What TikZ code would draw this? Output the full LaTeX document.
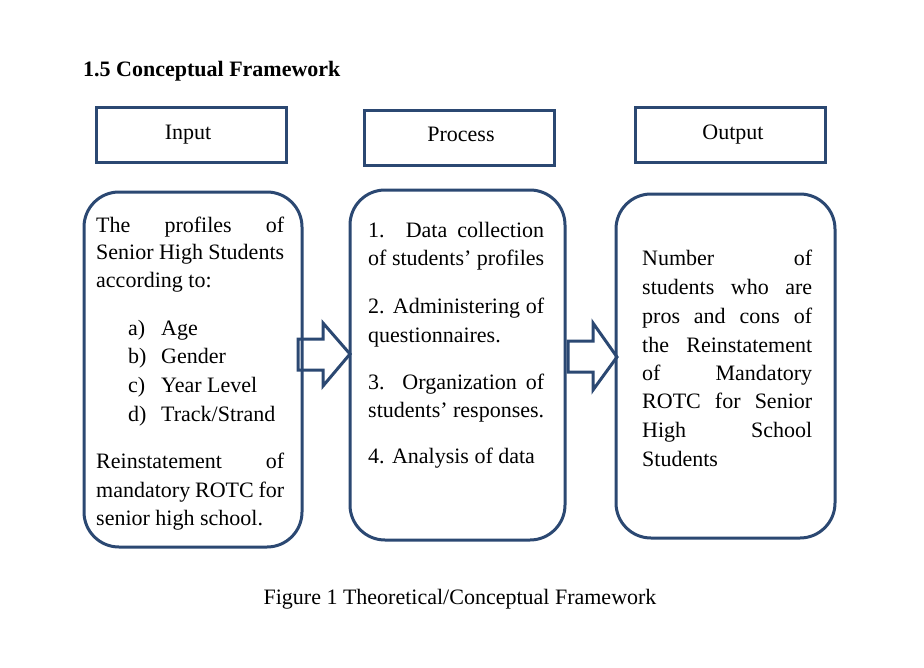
\documentclass[tikz,border=0pt]{standalone}
\usepackage{fontspec}
\setmainfont{Liberation Serif}
\definecolor{boxblue}{RGB}{43,72,114}
\begin{document}
\begin{tikzpicture}[x=1pt,y=-1pt,
  hdr/.style={draw=boxblue,line width=3pt},
  body/.style={draw=boxblue,line width=3pt,rounded corners=35pt},
  blockarrow/.style={draw=boxblue,line width=3pt,line join=miter},
  txt/.style={anchor=base west,inner sep=0pt,font=\fontsize{22}{28.5}\selectfont},
  ctxt/.style={anchor=base,inner sep=0pt,font=\fontsize{22}{28.5}\selectfont}]
\useasboundingbox[fill=white] (0,0) rectangle (924,667);
% title
\node[txt,font=\fontsize{22}{28.5}\selectfont\bfseries] (title) at (83,76) {1.5 Conceptual Framework};
% headers
\draw[hdr] (96,107) rectangle (286,162);
\draw[hdr] (364,110) rectangle (554,165);
\draw[hdr] (635,107) rectangle (825,162);
\node[ctxt] (hin) at (188,139) {Input};
\node[ctxt] (hpr) at (461,141) {Process};
\node[ctxt] (hout) at (733,139) {Output};
% bodies
\draw[body] (84,192) rectangle (302,547);
\draw[body] (350,190) rectangle (565,540);
\draw[body] (616,194) rectangle (835,538);
% arrows
\draw[blockarrow] (298,339) -- (323,339) -- (323,323) -- (350,354) -- (323,386) -- (323,370) -- (298,370) -- cycle;
\draw[blockarrow] (568,341) -- (593,341) -- (593,323) -- (617,357) -- (593,390) -- (593,372) -- (568,372) -- cycle;
% input text
\node[txt] (i1) at (96,232) {\makebox[188pt][s]{The profiles of}};
\node[txt] (i2) at (96,259) {\makebox[188pt][s]{Senior High Students}};
\node[txt] (i3) at (96,287) {according to:};
\node[txt] (ia) at (128,335) {a)};
\node[txt] (ib) at (128,363) {b)};
\node[txt] (ic) at (128,392) {c)};
\node[txt] (id) at (128,421) {d)};
\node[txt] (ia2) at (161,335) {Age};
\node[txt] (ib2) at (161,363) {Gender};
\node[txt] (ic2) at (161,392) {Year Level};
\node[txt] (id2) at (161,421) {Track/Strand};
\node[txt] (i4) at (96,468) {\makebox[188pt][s]{Reinstatement of}};
\node[txt] (i5) at (96,497) {\makebox[188pt][s]{mandatory ROTC for}};
\node[txt] (i6) at (96,525) {senior high school.};
% process text
\node[txt] (p1) at (368,237) {\makebox[176pt][s]{1. Data collection}};
\node[txt] (p2) at (368,265) {\makebox[176pt][s]{of students’ profiles}};
\node[txt] (p3) at (368,313) {\makebox[176pt][s]{2. Administering of}};
\node[txt] (p4) at (368,342) {questionnaires.};
\node[txt] (p5) at (368,389) {\makebox[176pt][s]{3. Organization of}};
\node[txt] (p6) at (368,417) {\makebox[176pt][s]{students’ responses.}};
\node[txt] (p7) at (368,463) {4. Analysis of data};
% output text
\node[txt] (o1) at (642,265) {\makebox[170pt][s]{Number of}};
\node[txt] (o2) at (642,294) {\makebox[170pt][s]{students who are}};
\node[txt] (o3) at (642,323) {\makebox[170pt][s]{pros and cons of}};
\node[txt] (o4) at (642,352) {\makebox[170pt][s]{the Reinstatement}};
\node[txt] (o5) at (642,380) {\makebox[170pt][s]{of Mandatory}};
\node[txt] (o6) at (642,408) {\makebox[170pt][s]{ROTC for Senior}};
\node[txt] (o7) at (642,437) {\makebox[170pt][s]{High School}};
\node[txt] (o8) at (642,466) {Students};
% caption
\node[ctxt] (cap) at (460,604) {Figure 1 Theoretical/Conceptual Framework};
\end{tikzpicture}
\end{document}
